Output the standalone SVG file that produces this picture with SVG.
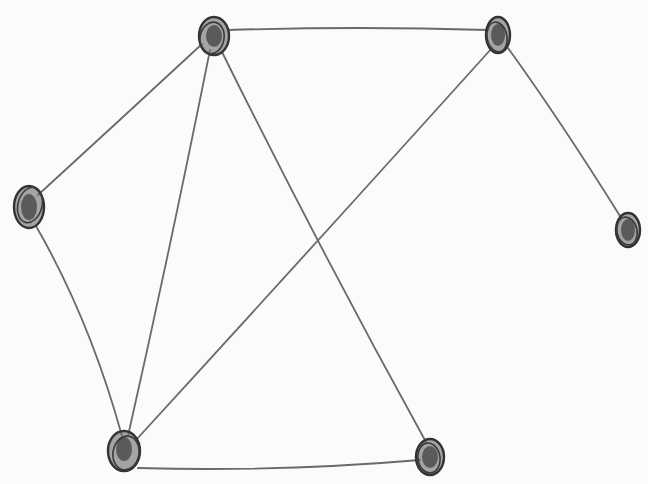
<svg xmlns="http://www.w3.org/2000/svg" width="648" height="484" viewBox="0 0 648 484">
<style>
.e{fill:none;stroke:#6a6a6a;stroke-width:1.8;stroke-linecap:round}
.n{fill:#6a6a6a;fill-opacity:0.6;stroke:#333;stroke-width:2.4}
.s{fill:none;stroke:#3a3a3a;stroke-width:1.6}
.c{fill:#2a2a2a;fill-opacity:0.6}
</style>
<rect width="648" height="484" fill="#fbfbfb"/>
<g id="edges">
<path class="e" d="M228,30 Q360,26 488,30"/>
<path class="e" d="M202,44 Q120,120 38,195"/>
<path class="e" d="M210,50 Q170,250 128,436"/>
<path class="e" d="M222,52 Q320,250 426,442"/>
<path class="e" d="M492,48 Q310,250 136,440"/>
<path class="e" d="M508,48 Q560,120 620,216"/>
<path class="e" d="M36,226 Q90,320 122,436"/>
<path class="e" d="M138,468 Q280,472 420,460"/>
</g>
<g id="n1"><ellipse class="n" cx="214" cy="36" rx="15" ry="19"/><ellipse class="s" cx="212" cy="38" rx="12" ry="16" transform="rotate(12 212 38)"/><ellipse class="c" cx="214" cy="36" rx="8" ry="11"/></g>
<g id="n2"><ellipse class="n" cx="498" cy="35" rx="12" ry="18"/><ellipse class="s" cx="497" cy="37" rx="10" ry="15" transform="rotate(-10 497 37)"/><ellipse class="c" cx="498" cy="35" rx="7" ry="11"/></g>
<g id="n3"><ellipse class="n" cx="29" cy="207" rx="15" ry="21"/><ellipse class="s" cx="30" cy="205" rx="12" ry="18" transform="rotate(15 30 205)"/><ellipse class="c" cx="29" cy="207" rx="8" ry="13"/></g>
<g id="n4"><ellipse class="n" cx="628" cy="230" rx="12" ry="17"/><ellipse class="s" cx="627" cy="231" rx="10" ry="14" transform="rotate(-12 627 231)"/><ellipse class="c" cx="628" cy="230" rx="7" ry="11"/></g>
<g id="n5"><ellipse class="n" cx="124" cy="451" rx="16" ry="20"/><ellipse class="s" cx="126" cy="453" rx="13" ry="17" transform="rotate(10 126 453)"/><ellipse class="c" cx="124" cy="449" rx="8" ry="12"/></g>
<g id="n6"><ellipse class="n" cx="430" cy="457" rx="14" ry="18"/><ellipse class="s" cx="429" cy="458" rx="11" ry="15" transform="rotate(-8 429 458)"/><ellipse class="c" cx="430" cy="457" rx="8" ry="11"/></g>
</svg>
